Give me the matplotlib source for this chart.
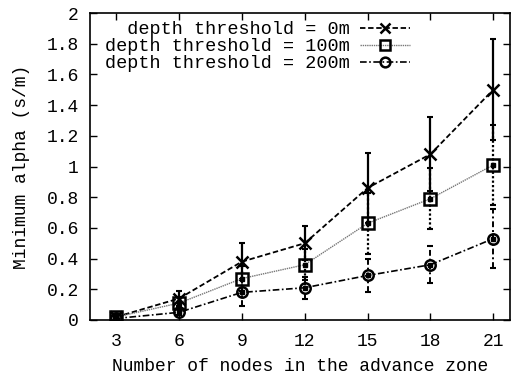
import matplotlib
matplotlib.use("Agg")
import matplotlib.pyplot as plt
from matplotlib.lines import Line2D

plt.rcParams['font.family'] = ['Liberation Mono', 'DejaVu Sans Mono']
plt.rcParams['font.size'] = 13

nodes = [3, 6, 9, 12, 15, 18, 21]
labels = ["  depth threshold = 0m", "depth threshold = 100m", "depth threshold = 200m"]
alpha_0 = [0.02, 0.14, 0.38, 0.50, 0.86, 1.08, 1.50]
err_0 = [0.01, 0.05, 0.12, 0.11, 0.23, 0.24, 0.33]
alpha_100 = [0.02, 0.11, 0.27, 0.36, 0.63, 0.79, 1.01]
err_100 = [0.01, 0.04, 0.08, 0.10, 0.20, 0.20, 0.26]
alpha_200 = [0.01, 0.05, 0.18, 0.21, 0.29, 0.36, 0.53]
err_200 = [0.01, 0.02, 0.09, 0.07, 0.11, 0.12, 0.19]

fig = plt.figure(figsize=(5.12, 3.74), dpi=100)
ax = fig.add_axes([90/512, 1-320/374, (510-90)/512, (320-13)/374])

styles = [
    dict(y=alpha_0, e=err_0, ls=(0, (3, 1.5)), lw=1.3, marker='x', ms=8, ebls='-', eblw=1.6, lc='black'),
    dict(y=alpha_100, e=err_100, ls=(0, (1, 0.6)), lw=1.0, marker='s', ms=8, ebls=(0, (1, 1)), eblw=1.6, lc='#777777'),
    dict(y=alpha_200, e=err_200, ls=(0, (4, 1.5, 1, 1.5)), lw=1.2, marker='o', ms=7.5, ebls=(0, (3, 1.5, 1, 1.5)), eblw=1.4, lc='black'),
]

handles = []
for st, lab in zip(styles, labels):
    line, caps, bars = ax.errorbar(nodes, st['y'], yerr=st['e'], color=st['lc'], ls=st['ls'], lw=st['lw'],
                                   marker='none', ecolor='black', elinewidth=st['eblw'], capsize=2, capthick=1.5, zorder=2)
    bars[0].set_linestyle(st['ebls'])
    ax.plot(nodes, st['y'], ls='none', marker=st['marker'], ms=st['ms'], mec='black', mfc='none', mew=1.8, zorder=3)
    if st['marker'] != 'x':
        ax.plot(nodes, st['y'], ls='none', marker='s', ms=3, mec='black', mfc='black', zorder=4)
    handles.append(Line2D([], [], color=st['lc'], ls=st['ls'], lw=st['lw'], marker=st['marker'],
                          ms=7, mec='black', mfc='none', mew=1.8))

ax.set_xlim(1.75, 21.8)
ax.set_ylim(0, 2)
ax.set_xticks(nodes)
ax.set_yticks([0, 0.2, 0.4, 0.6, 0.8, 1, 1.2, 1.4, 1.6, 1.8, 2])
ax.set_yticklabels(['0', '0.2', '0.4', '0.6', '0.8', '1', '1.2', '1.4', '1.6', '1.8', '2'])
ax.tick_params(direction='in', top=True, right=True, length=5, width=1)
ax.tick_params(axis='x', pad=9)
ax.tick_params(axis='y', pad=8)
for s in ax.spines.values():
    s.set_linewidth(1.2)

ax.set_xlabel('Number of nodes in the advance zone', fontsize=13, labelpad=6)
ax.set_ylabel('Minimum alpha (s/m)', labelpad=12)

leg = ax.legend(handles, labels, loc='upper left', bbox_to_anchor=(0.015, 1.0), frameon=False,
                markerfirst=False, handlelength=2.7, handletextpad=0.6, labelspacing=0.0, borderpad=0.25,
                borderaxespad=0.2, fontsize=13.3)

fig.savefig('out.png', dpi=100)
